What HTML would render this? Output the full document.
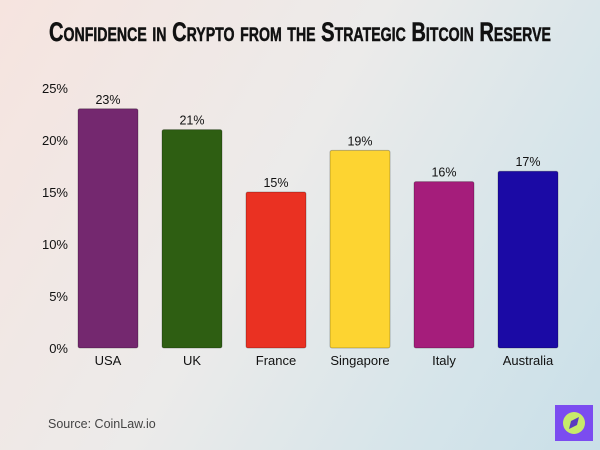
<!DOCTYPE html>
<html><head><meta charset="utf-8"><style>
html,body{margin:0;padding:0;width:600px;height:450px;overflow:hidden}
body{background:linear-gradient(120deg,#f6e4df 0%,#ecebea 45%,#d7e5ea 75%,#c9dfe8 100%);font-family:"Liberation Sans",sans-serif}
</style></head><body>
<svg id="chart" width="600" height="450" xmlns="http://www.w3.org/2000/svg">
<text x="300" y="41" text-anchor="middle" font-family="Liberation Sans" font-weight="bold" font-size="27" font-variant="small-caps" textLength="502" lengthAdjust="spacingAndGlyphs" fill="#111" stroke="#111" stroke-width="0.5">Confidence in Crypto from the Strategic Bitcoin Reserve</text>
<g id="yaxis"></g>
<g id="bars"></g>
<text x="48" y="428" font-size="12.5" fill="#444">Source: CoinLaw.io</text>
<g>
<rect x="555" y="405" width="38" height="36" fill="#7b4cf0"/>
<circle cx="574" cy="423" r="11" fill="#c7ea6a"/>
<path d="M579 417 L571 421 L569 429 L577 425 Z" fill="#5a3bc0"/>
</g>
</svg>
<script>
const categories=["USA","UK","France","Singapore","Italy","Australia"];
const values=[23,21,15,19,16,17];
const colors=["#74286f","#2e5e12","#ea3122","#fdd431","#a51d7b","#1b0aa5"];
const ticks=[0,5,10,15,20,25];
const NS="http://www.w3.org/2000/svg";
const y0=348,y1=88,vmax=25;
function y(v){return y0-(y0-y1)*v/vmax;}
function x(i){return 78+i*84;}
const bw=60;
const ya=document.getElementById('yaxis'),bg=document.getElementById('bars');
ticks.forEach(t=>{const e=document.createElementNS(NS,'text');


e.setAttribute('x',68);e.setAttribute('y',y(t)+5);e.setAttribute('text-anchor','end');e.setAttribute('font-size','13');e.setAttribute('fill','#111');e.textContent=t+'%';ya.appendChild(e);});
categories.forEach((c,i)=>{
const r=document.createElementNS(NS,'rect');


r.setAttribute('x',x(i));r.setAttribute('y',y(values[i]));r.setAttribute('width',bw);r.setAttribute('height',y0-y(values[i]));r.setAttribute('rx',2);r.setAttribute('fill',colors[i]);r.setAttribute('stroke','rgba(0,0,0,0.25)');bg.appendChild(r);
const l=document.createElementNS(NS,'text');


l.setAttribute('x',x(i)+bw/2);l.setAttribute('y',y(values[i])-5);l.setAttribute('text-anchor','middle');l.setAttribute('font-size','12.5');l.setAttribute('fill','#111');l.textContent=values[i]+'%';bg.appendChild(l);
const cl=document.createElementNS(NS,'text');


cl.setAttribute('x',x(i)+bw/2);cl.setAttribute('y',365);cl.setAttribute('text-anchor','middle');cl.setAttribute('font-size','13');cl.setAttribute('fill','#111');cl.textContent=c;bg.appendChild(cl);
});
</script>
</body></html>
